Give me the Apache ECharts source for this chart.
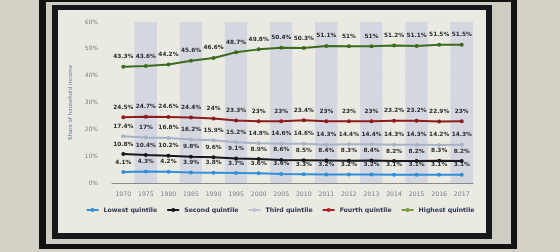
<!DOCTYPE html>
<html>
<head>
<meta charset="utf-8">
<script src="https://cdn.jsdelivr.net/npm/echarts@6/dist/echarts.min.js"></script>
<style>
html,body{margin:0;padding:0;background:#d6d1c6;}
#c{width:560px;height:252px;}
</style>
</head>
<body>
<div id="c"></div>
<script>
var years = ['1970','1975','1980','1985','1990','1995','2000','2005','2010','2011','2012','2013','2014','2015','2016','2017'];
var lowest  = [4.1,4.3,4.2,3.9,3.8,3.7,3.6,3.4,3.3,3.2,3.2,3.2,3.1,3.1,3.1,3.1];
var second  = [10.8,10.4,10.2,9.8,9.6,9.1,8.9,8.6,8.5,8.4,8.3,8.4,8.2,8.2,8.3,8.2];
var third   = [17.4,17,16.8,16.2,15.9,15.2,14.8,14.6,14.6,14.3,14.4,14.4,14.3,14.3,14.2,14.3];
var fourth  = [24.5,24.7,24.6,24.4,24,23.3,23,23,23.4,23,23,23,23.2,23.2,22.9,23];
var highest = [43.3,43.6,44.2,45.6,46.6,48.7,49.8,50.4,50.3,51.1,51,51,51.2,51.1,51.5,51.5];
var seriesNames = ['Lowest quintile','Second quintile','Third quintile','Fourth quintile','Highest quintile'];
var seriesData = [lowest, second, third, fourth, highest];
var colors = ['#2f8fd8','#15171c','#a8b2c8','#8e1c1c','#3a6b1e'];
var legendColors = ['#2f8fd8','#15171c','#b8c0d2','#a82222','#7a9a38'];

var chart = echarts.init(document.getElementById('c'));
var series = seriesNames.map(function(n,i){
  return {
    name: n, type: 'line', data: seriesData[i],
    symbol: 'circle', symbolSize: 4,
    lineStyle: {color: colors[i], width: 2},
    itemStyle: {color: colors[i]},
    label: {show: true, position: 'top', distance: 5, formatter: function(p){return p.value + '%';},
      fontSize: 5.8, fontWeight: 'bold', color: '#2a2a2a', fontFamily: 'DejaVu Sans'},
    z: 3
  };
});
chart.setOption({
  animation: false,
  backgroundColor: 'transparent',
  graphic: [
    {type:'rect', shape:{x:39,y:-5,width:478,height:254}, style:{fill:'#121212'}, z:-10},
    {type:'rect', shape:{x:46,y:2,width:465,height:242}, style:{fill:'#cfccc2'}, z:-9},
    {type:'rect', shape:{x:52,y:5,width:440,height:234}, style:{fill:'#17181c'}, z:-8},
    {type:'rect', shape:{x:58,y:10,width:428,height:223}, style:{fill:'#ebeae2'}, z:-7}
  ],
  color: legendColors,
  grid: {left: 112, right: 87, top: 22, bottom: 69},
  legend: {
    bottom: 34, left: 278, itemWidth: 12, itemHeight: 5, itemGap: 9,
    textStyle: {fontSize: 6.2, fontWeight: 'bold', color: '#2b3350', fontFamily: 'DejaVu Sans'},
    data: seriesNames.map(function(n,i){return {name:n, itemStyle:{color:legendColors[i]}, lineStyle:{color:legendColors[i]}};})
  },
  xAxis: {
    type: 'category', data: years, boundaryGap: true,
    axisLine: {lineStyle: {color: '#8a8a8a', width: 1}},
    axisTick: {show: false},
    axisLabel: {fontSize: 6.2, color: '#7a8090', margin: 8, fontFamily: 'DejaVu Sans'},
    splitArea: {show: true, areaStyle: {color: ['rgba(235,234,226,1)','rgba(212,215,224,1)']}}
  },
  yAxis: {
    type: 'value', min: 0, max: 60, interval: 10,
    name: 'Share of household income', nameLocation: 'middle', nameGap: 22, nameRotate: 90,
    nameTextStyle: {fontSize: 5.5, color: '#6070a0', fontFamily: 'DejaVu Sans'},
    axisLabel: {formatter: '{value}%', fontSize: 6, color: '#808080', margin: 14, fontFamily: 'DejaVu Sans'},
    splitLine: {lineStyle: {color: '#c8c8c8', width: 1}},
    axisLine: {show: false}, axisTick: {show: false}
  },
  series: series
});
chart.setOption({legend: {left: 'center'}});
</script>
</body>
</html>
